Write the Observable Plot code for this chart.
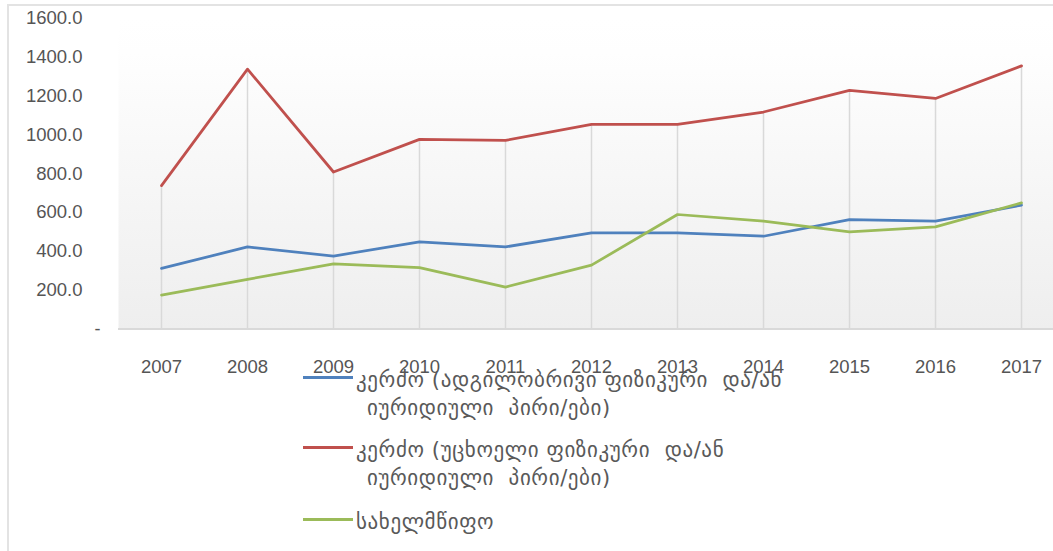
<!DOCTYPE html>
<html><head><meta charset="utf-8">
<script src="https://cdn.jsdelivr.net/npm/d3@7"></script>
<script src="https://cdn.jsdelivr.net/npm/@observablehq/plot@0.6"></script>
<style>
body{margin:0;background:#fff;}
#wrap{position:relative;width:1053px;height:551px;overflow:hidden;background:#fff;}
#border{position:absolute;left:7px;top:4px;width:1100px;height:600px;border:2px solid #e3e3e3;box-sizing:border-box;}
#chart{position:absolute;left:0;top:0;}
.entry{position:absolute;left:356px;font-family:"DejaVu Sans";font-size:21px;letter-spacing:0.6px;line-height:28px;color:#595959;white-space:pre;}
.entry .l2{padding-left:11px;}
.sw{position:absolute;left:303px;width:50px;height:3px;}
</style></head><body>
<div id="wrap"><div id="border"></div><div id="chart"></div><div id="legend"></div></div>
<script>
const years = [2007, 2008, 2009, 2010, 2011, 2012, 2013, 2014, 2015, 2016, 2017];
const privateLocal   = [312, 423, 376, 449, 423, 495, 495, 478, 564, 556, 638];
const privateForeign = [739, 1339, 809, 977, 972, 1054, 1054, 1118, 1230, 1188, 1356];
const stateOwned     = [175, 256, 336, 316, 216, 329, 590, 556, 501, 526, 650];
const seriesNames = [
  "კერძო (ადგილობრივი ფიზიკური  და/ან იურიდიული  პირი/ები)",
  "კერძო (უცხოელი ფიზიკური  და/ან იურიდიული  პირი/ები)",
  "სახელმწიფო"
];
const legendLines = [
  ["კერძო (ადგილობრივი ფიზიკური  და/ან", "იურიდიული  პირი/ები)"],
  ["კერძო (უცხოელი ფიზიკური  და/ან", "იურიდიული  პირი/ები)"],
  ["სახელმწიფო"]
];
const seriesColors = ["#4F81BD", "#C0504D", "#9BBB59"];
const yTicks = [200, 400, 600, 800, 1000, 1200, 1400, 1600];
const zeroLabel = "-";

const seriesValues = [privateLocal, privateForeign, stateOwned];
const rows = seriesValues.flatMap((vals, s) => years.map((yr, i) => ({year: yr, value: vals[i], series: seriesNames[s]})));
const drops = years.map((yr, i) => ({year: yr, top: Math.max(privateLocal[i], privateForeign[i], stateOwned[i])}));

const chart = Plot.plot({
  width: 1053, height: 551,
  marginTop: 18, marginBottom: 222.5, marginLeft: 118, marginRight: 0,
  x: {type: "linear", domain: [2006.5, 2017.372], label: null},
  y: {domain: [0, 1600], label: null},
  color: {domain: seriesNames, range: seriesColors},
  style: {fontFamily: "Liberation Sans", fontSize: "18.5px", color: "#555555", background: "transparent", overflow: "visible"},
  marks: [
    Plot.frame({fill: "url(#bg)", stroke: null}),
    Plot.ruleX(drops, {x: "year", y1: 0, y2: "top", stroke: "#d9d9d9", strokeWidth: 1.5}),
    Plot.ruleY([0], {stroke: "#d9d9d9", strokeWidth: 2}),
    Plot.lineY(rows, {x: "year", y: "value", z: "series", stroke: "series", strokeWidth: 2.75}),
    Plot.axisY({ticks: yTicks, tickSize: 0, tickPadding: 36, tickFormat: d3.format(".1f"), fill: "#555555", label: null}),
    Plot.text([0], {y: d => d, text: () => zeroLabel, frameAnchor: "left", dx: -24, fill: "#555555", fontSize: 18}),
    Plot.axisX({ticks: years, tickSize: 0, tickPadding: 31, tickFormat: d => String(d), fill: "#555555", label: null})
  ]
});
const defs = d3.select(chart).insert("defs", ":first-child");
const grad = defs.append("linearGradient").attr("id", "bg").attr("x1", 0).attr("y1", 0).attr("x2", 0).attr("y2", 1);
grad.append("stop").attr("offset", 0).attr("stop-color", "#ffffff");
grad.append("stop").attr("offset", 0.11).attr("stop-color", "#fefefe");
grad.append("stop").attr("offset", 1).attr("stop-color", "#eeeeee");
document.getElementById("chart").appendChild(chart);

const legend = document.getElementById("legend");
const lineYs = [377, 447, 519];
legendLines.forEach((lines, s) => {
  const sw = document.createElement("div");
  sw.className = "sw";
  sw.style.top = (lineYs[s] - 1.5) + "px";
  sw.style.background = seriesColors[s];
  legend.appendChild(sw);
  const e = document.createElement("div");
  e.className = "entry";
  e.style.top = (lineYs[s] + 3 - 14) + "px";
  lines.forEach((t, k) => {
    const d = document.createElement("div");
    if (k > 0) d.className = "l2";
    d.textContent = t;
    e.appendChild(d);
  });
  legend.appendChild(e);
});
</script>
</body></html>
